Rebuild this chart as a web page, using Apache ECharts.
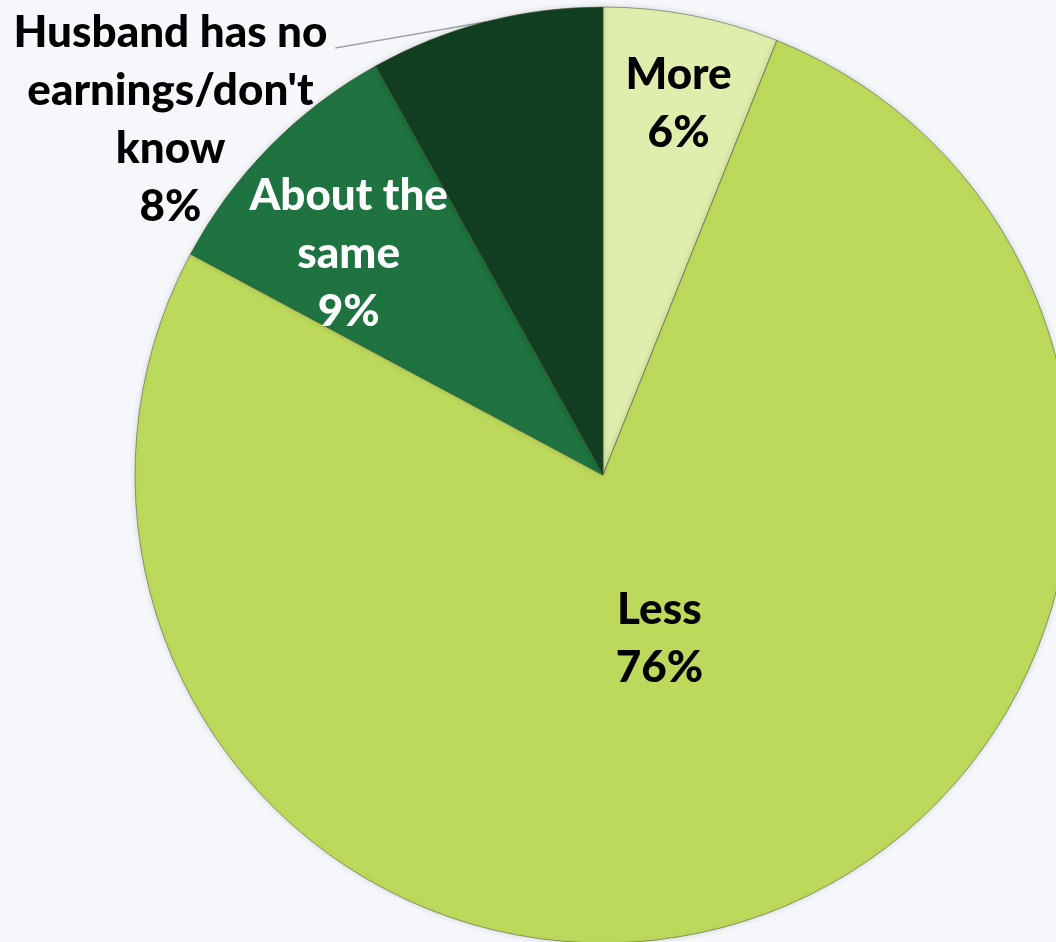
<!DOCTYPE html>
<html>
<head>
<meta charset="utf-8">
<script src="https://cdn.jsdelivr.net/npm/echarts@6/dist/echarts.min.js"></script>
<style>
html,body{margin:0;padding:0;background:#f5f7fb;}
#c{width:1056px;height:942px;}
</style>
</head>
<body>
<div id="c"></div>
<script>
// Data
const categories = ["More", "Less", "About the\nsame", "Husband has no\nearnings/don't\nknow"];
const values = [6, 76, 9, 8];

// Styles
const colors = ["#dfeeac", "#bdd95c", "#1e7340", "#123e22"];
const textColors = ["#000000", "#000000", "#ffffff", "#000000"];
// label placement: polar angle (deg clockwise from top) and radius fraction
const labelAngle = [11.5, 161, 311, 309.4];
const labelRadius = [0.81, 0.37, 0.72, 1.196];
const leaderEnd = { angle: 327.9, r: 1.077 };

const CX = 603, CY = 475, R = 468;
const total = values.reduce((a, b) => a + b, 0);
function polar(angDeg, rr) {
  const a = angDeg * Math.PI / 180;
  return [CX + rr * Math.sin(a), CY - rr * Math.cos(a)];
}
function midAngle(i) {
  let s = 0;
  for (let k = 0; k < i; k++) s += values[k];
  return (s + values[i] / 2) / total * 360;
}

const chart = echarts.init(document.getElementById('c'));
chart.setOption({
  backgroundColor: '#f5f7fb',
  animation: false,
  series: [{
    type: 'pie',
    center: [CX, CY],
    radius: [0, R],
    startAngle: 90,
    clockwise: true,
    avoidLabelOverlap: false,
    itemStyle: {
      borderColor: 'rgba(70,90,50,0.55)',
      borderWidth: 1,
      shadowBlur: 6,
      shadowColor: 'rgba(0,0,0,0.15)'
    },
    label: {
      show: true,
      position: 'inside',
      formatter: p => p.name + '\n' + p.value + '%',
      fontFamily: 'Lato',
      fontWeight: 900,
      fontSize: 44,
      lineHeight: 58,
      align: 'center'
    },
    labelLine: { show: false },
    labelLayout: function (params) {
      const i = params.dataIndex;
      const p = polar(labelAngle[i], labelRadius[i] * R);
      const res = { x: p[0], y: p[1], align: 'center', verticalAlign: 'middle' };
      if (i === 3) {
        res.labelLinePoints = [polar(midAngle(i), R), polar(leaderEnd.angle, leaderEnd.r * R)];
      }
      return res;
    },
    data: categories.map((c, i) => ({
      name: c,
      value: values[i],
      itemStyle: { color: colors[i] },
      label: i === 3
        ? { position: 'outside', color: textColors[i], align: 'center' }
        : { color: textColors[i] },
      labelLine: i === 3
        ? { show: true, length: 10, length2: 10, lineStyle: { color: '#a0a4a8', width: 1.5 } }
        : { show: false }
    }))
  }]
});
</script>
</body>
</html>
